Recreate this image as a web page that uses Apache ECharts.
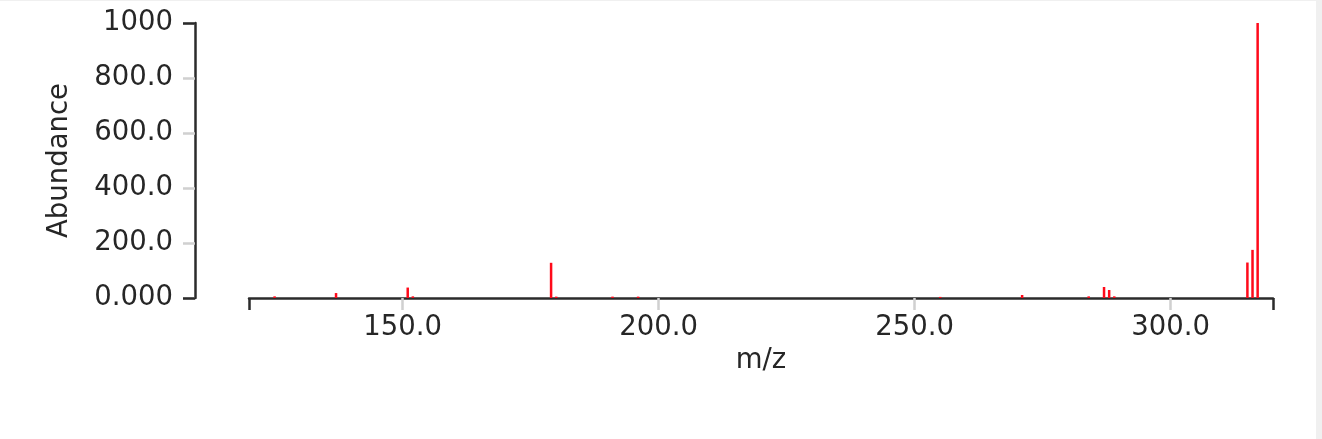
<!DOCTYPE html>
<html>
<head>
<meta charset="utf-8">
<script src="https://cdn.jsdelivr.net/npm/echarts@6/dist/echarts.min.js"></script>
<style>
  html, body { margin: 0; padding: 0; background: #f0f0f0; overflow: hidden; }
  #chart { position: absolute; left: 0; top: 1px; width: 1316px; height: 438px; background: #ffffff; }
</style>
</head>
<body>
<div id="chart"></div>
<script>
// m/z positions of the peaks
const mzValues = [125, 137, 151, 152, 179, 180, 191, 196, 255, 271, 284, 287, 288, 289, 315, 316, 317];
// relative abundance of each peak
const abundanceValues = [6, 18, 38, 6, 128, 5, 5, 5, 4, 11, 6, 40, 29, 6, 129, 175, 1000];
// axis tick values
const xTickValues = [150, 200, 250, 300];
const xRange = [120, 320];
const yRange = [0, 1000];
const yInterval = 200;

const fontFamily = 'DejaVu Sans, Verdana, sans-serif';
const textColor = '#262626';
const fontSize = 27.5;
const fmt = v => Number(v).toPrecision(4);

const chart = echarts.init(document.getElementById('chart'), null, { renderer: 'canvas' });
chart.setOption({
  animation: false,
  backgroundColor: '#ffffff',
  grid: { left: 249, right: 43, top: 22, bottom: 141, containLabel: false },
  xAxis: [
    {
      type: 'value', min: xRange[0], max: xRange[1], position: 'bottom',
      name: 'm/z', nameLocation: 'middle', nameGap: 47,
      nameTextStyle: { color: textColor, fontSize: fontSize, fontFamily: fontFamily },
      axisLine: { show: true, lineStyle: { color: '#2b2b2b', width: 2.5 } },
      axisTick: { show: true, length: 12, customValues: xTickValues, lineStyle: { color: '#d0d0d0', width: 2.5 } },
      axisLabel: { show: true, customValues: xTickValues, formatter: fmt, margin: 16,
        color: textColor, fontSize: fontSize, fontFamily: fontFamily },
      splitLine: { show: false }
    },
    {
      type: 'value', min: xRange[0], max: xRange[1], position: 'bottom',
      axisLine: { show: false },
      axisTick: { show: true, length: 12, customValues: xRange, lineStyle: { color: '#2b2b2b', width: 2.5 } },
      axisLabel: { show: false },
      splitLine: { show: false }
    }
  ],
  yAxis: [
    {
      type: 'value', min: yRange[0], max: yRange[1], interval: yInterval, position: 'left', offset: 54,
      name: 'Abundance', nameLocation: 'middle', nameRotate: 90, nameGap: 121,
      nameTextStyle: { color: textColor, fontSize: fontSize, fontFamily: fontFamily },
      axisLine: { show: true, lineStyle: { color: '#2b2b2b', width: 2.5 } },
      axisTick: { show: true, length: 12, lineStyle: { color: '#d0d0d0', width: 2.5 } },
      axisLabel: { show: true, formatter: fmt, margin: 22, color: textColor, fontSize: fontSize, fontFamily: fontFamily },
      splitLine: { show: false }
    },
    {
      type: 'value', min: yRange[0], max: yRange[1], interval: yRange[1] - yRange[0], position: 'left', offset: 54,
      axisLine: { show: false },
      axisTick: { show: true, length: 12, lineStyle: { color: '#2b2b2b', width: 2.5 } },
      axisLabel: { show: false },
      splitLine: { show: false }
    }
  ],
  series: [
    {
      type: 'bar',
      xAxisIndex: 0, yAxisIndex: 0,
      barWidth: 2.5,
      itemStyle: { color: '#ff0a1a' },
      data: mzValues.map((m, i) => [m, abundanceValues[i]])
    }
  ]
});
</script>
</body>
</html>
